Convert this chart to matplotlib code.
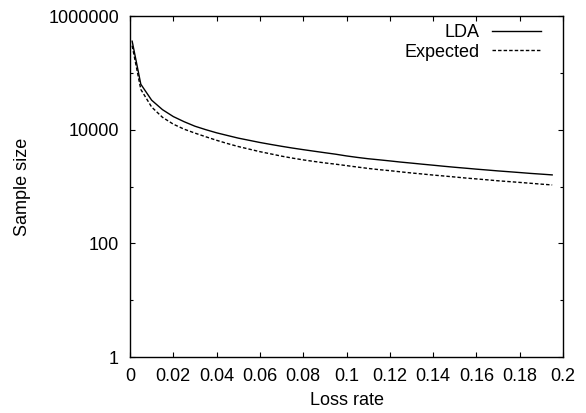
import matplotlib
matplotlib.use("Agg")
import matplotlib.pyplot as plt
from matplotlib.ticker import FixedLocator, FixedFormatter, NullFormatter

plt.rcParams['font.family'] = ['Liberation Sans', 'DejaVu Sans']

loss_rate = [0.001, 0.005, 0.010, 0.015, 0.020, 0.025, 0.030, 0.035, 0.040, 0.045,
             0.050, 0.055, 0.060, 0.065, 0.070, 0.075, 0.080, 0.085, 0.090, 0.095,
             0.100, 0.105, 0.110, 0.115, 0.120, 0.125, 0.130, 0.135, 0.140, 0.145,
             0.150, 0.155, 0.160, 0.165, 0.170, 0.175, 0.180, 0.185, 0.190, 0.195]

lda = [360000, 63000, 33000, 22500, 17000, 13800, 11500, 10000, 8800, 7900,
       7100, 6500, 5950, 5500, 5100, 4750, 4450, 4180, 3930, 3700,
       3450, 3250, 3080, 2950, 2820, 2690, 2580, 2470, 2370, 2270,
       2180, 2100, 2020, 1950, 1880, 1820, 1760, 1700, 1650, 1600]

expected = [300000, 51000, 25000, 16500, 12500, 10200, 8700, 7500, 6500, 5700,
            5050, 4550, 4100, 3750, 3420, 3160, 2940, 2760, 2600, 2470,
            2330, 2200, 2080, 1980, 1900, 1810, 1730, 1660, 1590, 1530,
            1470, 1410, 1360, 1310, 1260, 1220, 1180, 1140, 1100, 1065]

x_ticks = [0, 0.02, 0.04, 0.06, 0.08, 0.1, 0.12, 0.14, 0.16, 0.18, 0.2]
x_tick_labels = ['0', '0.02', '0.04', '0.06', '0.08', '0.1', '0.12', '0.14', '0.16', '0.18', '0.2']
y_ticks = [1, 100, 10000, 1000000]
y_tick_labels = ['1', '100', '10000', '1000000']
y_minor = [10, 1000, 100000]

fig = plt.figure(figsize=(5.86, 4.13), dpi=100)
ax = fig.add_axes([130/586, 1-357/413, 433/586, 341/413])

ax.plot(loss_rate, lda, color='black', lw=1.0, label='LDA')
ax.plot(loss_rate, expected, color='black', lw=1.0, ls=(0, (2.5, 1.5)), label='Expected')

ax.set_yscale('log')
ax.set_xlim(0, 0.2)
ax.set_ylim(1, 1000000)

ax.xaxis.set_major_locator(FixedLocator(x_ticks))
ax.xaxis.set_major_formatter(FixedFormatter(x_tick_labels))
ax.xaxis.set_minor_locator(FixedLocator([]))
ax.yaxis.set_major_locator(FixedLocator(y_ticks))
ax.yaxis.set_major_formatter(FixedFormatter(y_tick_labels))
ax.yaxis.set_minor_locator(FixedLocator(y_minor))
ax.yaxis.set_minor_formatter(NullFormatter())

ax.tick_params(which='both', direction='in', top=True, right=True, labelsize=13, width=0.8)
ax.tick_params(which='major', length=3.6, pad=8)
ax.tick_params(which='minor', length=2.0)
for s in ax.spines.values():
    s.set_linewidth(1.0)

ax.set_xlabel('Loss rate', fontsize=13, labelpad=5)
ax.set_ylabel('Sample size', fontsize=13, labelpad=12.5)

leg = ax.legend(loc='upper right', bbox_to_anchor=(0.949, 0.977), frameon=False,
                markerfirst=False, fontsize=13, handlelength=2.7, handletextpad=0.7,
                labelspacing=0.15, borderaxespad=0, borderpad=0)

fig.savefig('out.png', dpi=100)
